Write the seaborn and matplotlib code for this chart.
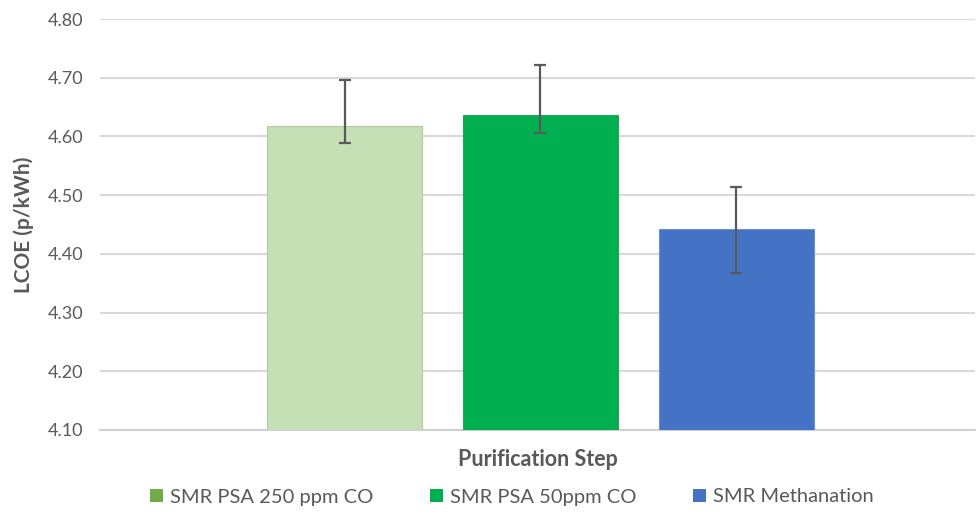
import numpy as np
import pandas as pd
import seaborn as sns
import matplotlib.pyplot as plt
from matplotlib.patches import Patch

# Data
steps = ['SMR PSA 250 ppm CO', 'SMR PSA 50ppm CO', 'SMR Methanation']
lcoe = [4.617, 4.637, 4.443]
err_low = [4.588, 4.606, 4.367]
err_high = [4.696, 4.722, 4.514]
y_ticks = [4.10, 4.20, 4.30, 4.40, 4.50, 4.60, 4.70, 4.80]

bar_colors = ['#C5E0B4', '#00B050', '#4472C4']
edge_colors = ['#B4C7A6', '#2E9E5B', '#6A8FD4']
legend_colors = ['#70AD47', '#00B050', '#4472C4']

df = pd.DataFrame({'step': steps, 'lcoe': lcoe})

sns.set_theme(style='white')
plt.rcParams['font.family'] = ['Lato', 'DejaVu Sans']

fig = plt.figure(figsize=(9.79, 5.15), dpi=100)
ax = fig.add_axes([100 / 979, 1 - 430 / 515, 875 / 979, 411 / 515])

sns.barplot(data=df, x='step', y='lcoe', hue='step', palette=bar_colors,
            saturation=1, width=0.79, legend=False, ax=ax, zorder=3)

for patch, ec in zip(ax.patches, edge_colors):
    patch.set_edgecolor(ec)
    patch.set_linewidth(0.8)

# Asymmetric error bars
xpos = np.arange(len(steps))
yerr = [np.array(lcoe) - np.array(err_low), np.array(err_high) - np.array(lcoe)]
ax.errorbar(xpos, lcoe, yerr=yerr, fmt='none', ecolor='#595959',
            elinewidth=1.6, capsize=4, capthick=1.6, zorder=4)

ax.set_ylim(4.10, 4.80)
ax.set_xlim(-1.25, 3.22)
ax.set_yticks(y_ticks)
ax.set_yticklabels([f'{t:.2f}' for t in y_ticks], color='#595959', fontsize=13)
ax.set_xticks([])
ax.grid(axis='y', color='#D9D9D9', linewidth=1.5, zorder=0)
ax.set_axisbelow(True)
for s in ['top', 'right', 'left']:
    ax.spines[s].set_visible(False)
ax.spines['bottom'].set_color('#D0D0D0')
ax.spines['bottom'].set_linewidth(1.5)
ax.tick_params(axis='y', length=0, pad=12)

ax.set_ylabel('LCOE (p/kWh)', fontsize=15, fontweight='bold', color='#595959', labelpad=10)
ax.set_xlabel('Purification Step', fontsize=15.5, fontweight='bold', color='#595959', labelpad=14)

handles = [Patch(facecolor=c, edgecolor='none') for c in legend_colors]
fig.legend(handles, steps, loc='center', bbox_to_anchor=(0.523, 1 - 497 / 515), ncol=3,
           frameon=False, fontsize=14.5, handlelength=0.65, handleheight=0.65,
           handletextpad=0.35, columnspacing=2.8, labelcolor='#595959')

fig.savefig('out.png', dpi=100)
